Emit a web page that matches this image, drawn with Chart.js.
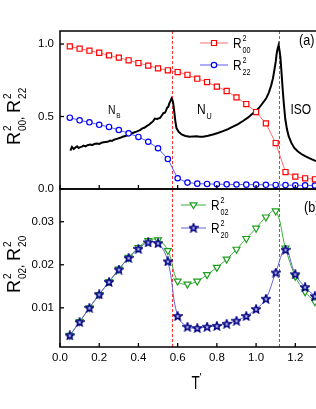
<!DOCTYPE html>
<html>
<head>
<meta charset="utf-8">
<script src="https://cdn.jsdelivr.net/npm/chart.js@4/dist/chart.umd.min.js"></script>
<style>
  html, body { margin: 0; padding: 0; overflow: hidden; background: #fff; width: 316px; height: 409px; }
  #top { position: absolute; left: 0; top: 0; }
  #bot { position: absolute; left: 0; top: 180px; }
</style>
</head>
<body>
<canvas id="top" width="326" height="195"></canvas>
<canvas id="bot" width="326" height="229"></canvas>
<script>
// temperatures T' of the symbols (both panels)
const T_PTS = [0.05, 0.1, 0.15, 0.2, 0.25, 0.3, 0.35, 0.4, 0.45, 0.5,
  0.55, 0.6, 0.65, 0.7, 0.75, 0.8, 0.85, 0.9, 0.95, 1.0, 1.05, 1.1, 1.15, 1.2, 1.25, 1.3];

// panel (a)
const R00 = [0.984, 0.968, 0.954, 0.940, 0.922, 0.906, 0.888, 0.869, 0.851, 0.832,
  0.819, 0.807, 0.788, 0.761, 0.738, 0.706, 0.676, 0.632, 0.586, 0.531, 0.453, 0.317, 0.117, 0.085, 0.074, 0.067];
const R22 = [0.492, 0.474, 0.460, 0.443, 0.428, 0.407, 0.384, 0.359, 0.326, 0.281,
  0.207, 0.074, 0.044, 0.037, 0.035, 0.033, 0.032, 0.031, 0.030, 0.030, 0.029, 0.028, 0.027, 0.026, 0.025, 0.024];

// black curve (heat capacity like) in panel (a)
const T_CURVE = [0.053, 0.061, 0.070, 0.080, 0.087, 0.095, 0.104, 0.112, 0.120, 0.130, 0.140, 0.154, 0.165, 0.175,
  0.188, 0.200, 0.212, 0.222, 0.235, 0.246, 0.256, 0.265, 0.275, 0.290, 0.307, 0.320, 0.341, 0.355, 0.374, 0.390,
  0.408, 0.420, 0.430, 0.442, 0.455, 0.467, 0.476, 0.484, 0.495, 0.510, 0.518, 0.527, 0.535, 0.540, 0.547, 0.552,
  0.557, 0.563, 0.569, 0.574, 0.578, 0.583, 0.588, 0.594, 0.605, 0.620, 0.640, 0.662, 0.680, 0.696, 0.713, 0.730,
  0.755, 0.780, 0.805, 0.831, 0.857, 0.882, 0.908, 0.933, 0.958, 0.983, 1.000, 1.017, 1.035, 1.051, 1.065, 1.077,
  1.086, 1.093, 1.100, 1.105, 1.110, 1.115, 1.119, 1.124, 1.130, 1.136, 1.142, 1.149, 1.157, 1.166, 1.180, 1.195,
  1.212, 1.229, 1.250, 1.271, 1.285, 1.300, 1.320];
const CURVE = [0.264, 0.290, 0.276, 0.288, 0.294, 0.283, 0.289, 0.292, 0.299, 0.294, 0.302, 0.306, 0.303, 0.311,
  0.313, 0.311, 0.319, 0.322, 0.325, 0.327, 0.334, 0.331, 0.340, 0.346, 0.353, 0.360, 0.369, 0.376, 0.388, 0.396,
  0.406, 0.418, 0.422, 0.434, 0.445, 0.458, 0.470, 0.486, 0.483, 0.490, 0.505, 0.523, 0.526, 0.539, 0.563, 0.566,
  0.589, 0.606, 0.625, 0.611, 0.585, 0.530, 0.470, 0.420, 0.395, 0.376, 0.366, 0.360, 0.363, 0.364, 0.360, 0.361,
  0.367, 0.376, 0.386, 0.399, 0.413, 0.430, 0.448, 0.469, 0.492, 0.521, 0.540, 0.563, 0.595, 0.624, 0.665, 0.715,
  0.763, 0.819, 0.877, 0.934, 0.970, 0.993, 0.960, 0.910, 0.798, 0.681, 0.580, 0.481, 0.415, 0.364, 0.318, 0.283,
  0.260, 0.243, 0.227, 0.213, 0.204, 0.196, 0.187];

// panel (b)
const R02 = [0.0036, 0.0068, 0.0100, 0.0131, 0.0161, 0.0190, 0.0217, 0.0240, 0.0256, 0.0258,
  0.0233, 0.0162, 0.0155, 0.0162, 0.0177, 0.0194, 0.0213, 0.0236, 0.0261, 0.0285, 0.0311, 0.0325, 0.0239, 0.0173, 0.0137, 0.0114];
const R20 = [0.0036, 0.0067, 0.0100, 0.0131, 0.0160, 0.0189, 0.0216, 0.0237, 0.0252, 0.0250,
  0.0208, 0.0081, 0.0056, 0.0053, 0.0056, 0.0058, 0.0063, 0.0070, 0.0081, 0.0097, 0.0121, 0.0182, 0.0235, 0.0178, 0.0148, 0.0127];

// transitions (dashed lines)
const T_TRANS = [0.569, 1.115];

const X_TICKS = [0, 0.2, 0.4, 0.6, 0.8, 1.0, 1.2];
const YA_TICKS = [0, 0.5, 1.0];
const YB_TICKS = [0.01, 0.02, 0.03];

const FONT = '"Liberation Sans", Arial, sans-serif';
Chart.defaults.font.family = FONT;
Chart.defaults.color = '#000';

const pts = (xs, ys) => xs.map((x, i) => ({ x: x, y: ys[i] }));

// open star marker
function makeStar() {
  const c = document.createElement('canvas');
  c.width = 10; c.height = 10;
  const g = c.getContext('2d');
  g.beginPath();
  for (let i = 0; i < 10; i++) {
    const r = i % 2 ? 1.9 : 4.2;
    const a = -Math.PI / 2 + i * Math.PI / 5;
    const px = 5 + r * Math.cos(a), py = 5.3 + r * Math.sin(a);
    if (i === 0) g.moveTo(px, py); else g.lineTo(px, py);
  }
  g.closePath();
  g.fillStyle = '#b8b8f0';
  g.fill();
  g.strokeStyle = '#000080';
  g.lineWidth = 1.5;
  g.stroke();
  return c;
}
const STAR = makeStar();

// text with stacked super/subscript, sx squeezes it horizontally
function rich(ctx, x, y, size, base, sup, sub, small, sx) {
  ctx.save();
  ctx.translate(x, y);
  ctx.scale(sx || 1, 1);
  ctx.font = size + 'px ' + FONT;
  ctx.fillText(base, 0, 0);
  let w = ctx.measureText(base).width;
  const s = small || Math.round(size * 0.6);
  ctx.font = s + 'px ' + FONT;
  let w2 = 0;
  if (sup) { ctx.fillText(sup, w + 1, -size * 0.52); w2 = Math.max(w2, ctx.measureText(sup).width); }
  if (sub) { ctx.fillText(sub, w + 1, size * 0.34); w2 = Math.max(w2, ctx.measureText(sub).width); }
  ctx.restore();
  return (w + 1 + w2) * (sx || 1);
}

function marker(ctx, kind, x, y, color) {
  ctx.save();
  ctx.strokeStyle = color;
  ctx.fillStyle = '#fff';
  ctx.lineWidth = 1.2;
  ctx.beginPath();
  if (kind === 'rect') ctx.rect(x - 2.5, y - 2.5, 5, 5);
  else if (kind === 'circle') ctx.arc(x, y, 2.7, 0, Math.PI * 2);
  else if (kind === 'tri') { ctx.moveTo(x - 3.5, y - 2.2); ctx.lineTo(x + 3.5, y - 2.2); ctx.lineTo(x, y + 3.6); ctx.closePath(); }
  if (kind === 'star') ctx.drawImage(STAR, x - 5, y - 5.3);
  else { ctx.fill(); ctx.stroke(); }
  ctx.restore();
}

function legendRow(ctx, y, x0, x1, lineColor, kind, mColor, sup, sub) {
  ctx.save();
  ctx.strokeStyle = lineColor;
  ctx.lineWidth = 1;
  ctx.beginPath(); ctx.moveTo(x0, y); ctx.lineTo(x1, y); ctx.stroke();
  marker(ctx, kind, (x0 + x1) / 2, y, mColor);
  ctx.fillStyle = '#000';
  rich(ctx, x1 + 5, y + 5, 14, 'R', sup, sub, 8.5, 0.85);
  ctx.restore();
}

function decor(draw, digits) {
  return {
    id: 'decor',
    beforeDatasetsDraw(chart) {
      const { ctx, chartArea: a, scales } = chart;
      ctx.save();
      ctx.strokeStyle = '#ff3030';
      ctx.lineWidth = 1;
      ctx.setLineDash([3, 2]);
      T_TRANS.forEach(t => {
        const px = Math.round(scales.x.getPixelForValue(t)) + 0.5;
        ctx.beginPath(); ctx.moveTo(px, a.top); ctx.lineTo(px, a.bottom); ctx.stroke();
      });
      ctx.restore();
    },
    afterDatasetsDraw(chart) {
      const { ctx, chartArea: a, scales } = chart;
      ctx.save();
      ctx.strokeStyle = '#000';
      ctx.lineWidth = 1.5;
      ctx.strokeRect(a.left, a.top, a.right - a.left, a.bottom - a.top);
      ctx.lineWidth = 1.3;
      scales.x.ticks.forEach(t => {
        const px = scales.x.getPixelForValue(t.value);
        ctx.beginPath(); ctx.moveTo(px, a.bottom); ctx.lineTo(px, a.bottom - 4); ctx.stroke();
      });
      // y ticks: inward marks and labels
      ctx.fillStyle = '#000';
      ctx.font = '11.5px ' + FONT;
      ctx.textAlign = 'right';
      ctx.textBaseline = 'middle';
      scales.y.ticks.forEach(t => {
        const py = scales.y.getPixelForValue(t.value);
        ctx.beginPath(); ctx.moveTo(a.left, py); ctx.lineTo(a.left + 4, py); ctx.stroke();
        ctx.fillText(t.value.toFixed(digits), a.left - 6, py);
      });
      ctx.textAlign = 'left';
      ctx.textBaseline = 'alphabetic';
      draw(ctx, chart);
      ctx.restore();
    }
  };
}

function yTitle(ctx, bx, by, subA, subB) {
  ctx.save();
  ctx.translate(bx, by);
  ctx.rotate(-Math.PI / 2);
  let x = 0;
  x += rich(ctx, x, 0, 18, 'R', '2', subA, 10);
  ctx.font = '12px ' + FONT;
  ctx.fillText(',', x, 3);
  x += 7;
  rich(ctx, x, 0, 18, 'R', '2', subB, 10);
  ctx.restore();
}

const baseScales = (yMin, yMax, yTicks, showX) => ({
  x: {
    type: 'linear', min: 0, max: 1.33,
    afterBuildTicks: s => { s.ticks = X_TICKS.map(v => ({ value: v })); },
    ticks: { display: showX, padding: 4, font: { size: 11.5 }, color: '#000', callback: v => v.toFixed(1) },
    grid: { display: false, drawTicks: false },
    border: { display: false }
  },
  y: {
    type: 'linear', min: yMin, max: yMax,
    afterBuildTicks: s => { s.ticks = yTicks.map(v => ({ value: v })); },
    ticks: { display: false },
    grid: { display: false, drawTicks: false },
    border: { display: false },
    afterFit: s => { s.width = 60; }
  }
});

// ---- panel (a)
const scalesA = baseScales(0, 1.09, YA_TICKS, false);
scalesA.x.afterFit = s => { s.height = 6; };
new Chart(document.getElementById('top'), {
  type: 'line',
  data: {
    datasets: [
      { data: pts(T_PTS, R00), borderColor: 'rgb(255,110,110)', borderWidth: 1, tension: 0,
        pointStyle: 'rect', pointRadius: 3.6, pointBorderColor: '#ff0000', pointBackgroundColor: '#fff', pointBorderWidth: 1.2 },
      { data: pts(T_PTS, R22), borderColor: 'rgb(90,90,255)', borderWidth: 1, tension: 0,
        pointStyle: 'circle', pointRadius: 2.7, pointBorderColor: '#0000ff', pointBackgroundColor: '#fff', pointBorderWidth: 1.2 },
      { data: pts(T_CURVE, CURVE), borderColor: '#000', borderWidth: 2, tension: 0, pointRadius: 0 }
    ]
  },
  options: {
    responsive: false, animation: false, events: [],
    layout: { padding: { left: 0, top: 31, right: 4, bottom: 0 } },
    plugins: { legend: { display: false }, tooltip: { enabled: false } },
    scales: scalesA
  },
  plugins: [decor((ctx) => {
    legendRow(ctx, 43, 200, 228, 'rgb(255,110,110)', 'rect', '#ff0000', '2', '00');
    legendRow(ctx, 65, 200, 228, 'rgb(90,90,255)', 'circle', '#0000ff', '2', '22');
    rich(ctx, 108, 113.5, 13, 'N', null, 'B', 8, 0.8);
    rich(ctx, 197, 113.5, 15, 'N', null, 'U', 9, 0.8);
    rich(ctx, 290.5, 113.5, 15, 'ISO', null, null, null, 0.8);
    rich(ctx, 299, 45, 14, '(a)', null, null, null, 0.9);
    yTitle(ctx, 20, 145, '00', '22');
  }, 1)]
});

// ---- panel (b)
const scalesB = baseScales(0.0009, 0.0376, YB_TICKS, true);
scalesB.x.afterFit = s => { s.height = 62; };
new Chart(document.getElementById('bot'), {
  type: 'line',
  data: {
    datasets: [
      { data: pts(T_PTS, R20), borderColor: 'rgb(100,100,215)', borderWidth: 1, tension: 0.4,
        pointStyle: STAR, pointRadius: 4 },
      { data: pts(T_PTS, R02), borderColor: 'rgb(60,175,60)', borderWidth: 1, tension: 0.4,
        pointStyle: 'triangle', rotation: 180, pointRadius: 4, pointBorderColor: '#1f9f1f', pointBackgroundColor: '#fff', pointBorderWidth: 1.2 }
    ]
  },
  options: {
    responsive: false, animation: false, events: [],
    layout: { padding: { left: 0, top: 9, right: 4, bottom: 0 } },
    plugins: { legend: { display: false }, tooltip: { enabled: false } },
    scales: scalesB
  },
  plugins: [decor((ctx) => {
    legendRow(ctx, 25, 181, 206, 'rgb(60,175,60)', 'tri', '#1f9f1f', '2', '02');
    legendRow(ctx, 48, 181, 206, 'rgb(100,100,215)', 'star', '#000080', '2', '20');
    rich(ctx, 304, 32, 14, '(b)', null, null, null, 0.9);
    rich(ctx, 191.5, 209, 18, 'T', null, null, null, 0.75);
    ctx.font = '10px ' + FONT;
    ctx.fillText('\'', 199.5, 201);
    yTitle(ctx, 20, 113, '02', '20');
  }, 2)]
});
</script>
</body>
</html>
